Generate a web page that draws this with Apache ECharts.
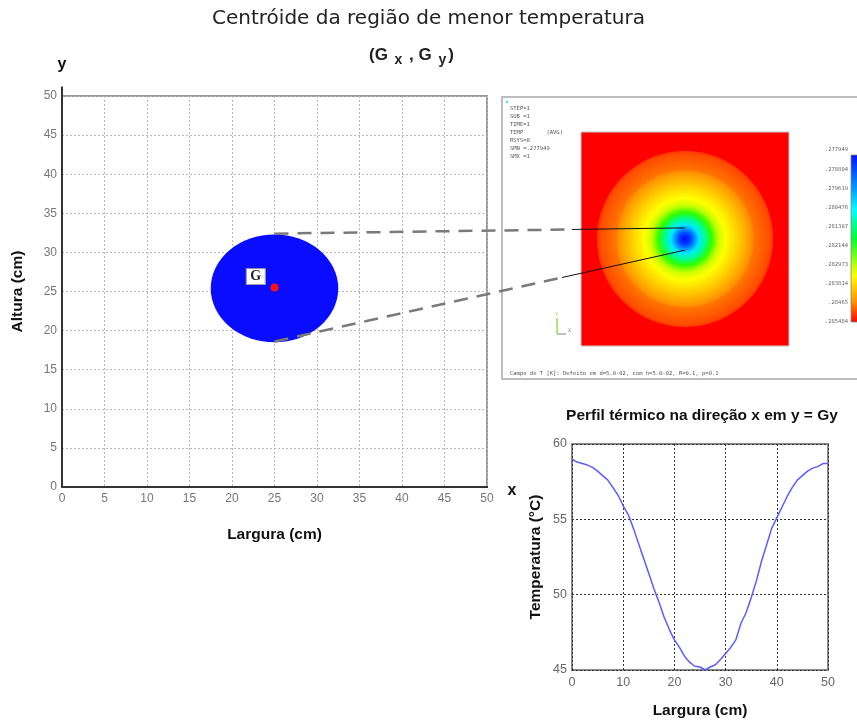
<!DOCTYPE html>
<html>
<head>
<meta charset="utf-8">
<script src="https://cdn.jsdelivr.net/npm/echarts@6/dist/echarts.min.js"></script>
<style>
  html, body { margin: 0; padding: 0; background: #ffffff; }
  #main { width: 857px; height: 723px; }
</style>
</head>
<body>
<div id="main"></div>
<script>
// ---------- data ----------
const mainTitle = 'Centróide da região de menor temperatura';
const profileTitle = 'Perfil térmico na direção x em y = Gy';
const leftTicks = [0, 5, 10, 15, 20, 25, 30, 35, 40, 45, 50];
// cold region ellipse: [centre x, centre y, half width, half height] (cm)
const coldRegion = [[25, 25.4, 7.5, 6.9]];
const centroid = [[25, 25.5]];
const centroidLabel = [[22.8, 26.9]];
// ANSYS field: [centre x, centre y, radius of heated disc] (cm)
const ansysField = [[25, 25, 21.2]];
const ansysHeader = ['STEP=1', 'SUB =1', 'TIME=1', 'TEMP       (AVG)', 'RSYS=0', 'SMN =.277949', 'SMX =1'];
const ansysFooter = 'Campo de T [K]: Defeito em d=5.0-02, com h=5.0-02, R=0.1, p=0.1';
const colorbarLabels = ['.277949', '.278804', '.279619', '.280476', '.281307', '.282144', '.282973', '.283814', '.28465', '.285484'];
// temperature profile along x at y = Gy : [x (cm), T (°C)]
const profile = [
  [0, 59.0], [1, 58.8], [2, 58.7], [3, 58.6], [4, 58.45], [5, 58.2], [6, 57.9], [7, 57.6], [8, 57.1], [9, 56.6],
  [10, 55.9], [11, 55.3], [12, 54.4], [13, 53.4], [14, 52.4], [15, 51.4], [16, 50.4], [17, 49.5], [18, 48.5], [19, 47.7],
  [20, 47.0], [21, 46.5], [22, 45.9], [23, 45.5], [24, 45.25], [25, 45.2], [26, 45.0], [27, 45.2], [28, 45.35], [29, 45.7],
  [30, 46.1], [31, 46.5], [32, 47.0], [33, 48.1], [34, 48.8], [35, 49.8], [36, 50.9], [37, 52.2], [38, 53.3], [39, 54.4],
  [40, 55.1], [41, 55.8], [42, 56.5], [43, 57.1], [44, 57.6], [45, 57.9], [46, 58.2], [47, 58.4], [48, 58.5], [49, 58.7], [50, 58.7]
];

const chart = echarts.init(document.getElementById('main'), null, { renderer: 'canvas' });
const FONT = '"Liberation Sans", Arial, sans-serif';
const WIDE = '"DejaVu Sans", "Liberation Sans", sans-serif';

const option = {
  backgroundColor: '#ffffff',
  animation: false,
  textStyle: { fontFamily: FONT },
  title: [
    { text: mainTitle, left: 'center', top: 4,
      textStyle: { fontSize: 20, fontWeight: 'normal', color: '#222', fontFamily: WIDE } },
    { text: '(G {s|x} , G {s|y})', left: 364, top: 38,
      textStyle: { fontSize: 17, fontWeight: 'bold', color: '#222', fontFamily: FONT,
        rich: { s: { fontSize: 14, fontWeight: 'bold', color: '#222', fontFamily: FONT, padding: [10, 2, 0, 2] } } } },
    { text: profileTitle, left: 697, textAlign: 'center', top: 403,
      textStyle: { fontSize: 15.5, fontWeight: 'bold', color: '#111', fontFamily: FONT } }
  ],
  grid: [
    { left: 62, top: 96, width: 425, height: 391, show: true, borderColor: '#999', borderWidth: 2, backgroundColor: 'transparent' },
    { left: 572, top: 444, width: 256, height: 226, show: true, borderColor: '#888', borderWidth: 2, backgroundColor: 'transparent' },
    { left: 581, top: 132, width: 208, height: 214, show: false }
  ],
  xAxis: [
    { gridIndex: 0, type: 'value', min: 0, max: 50, interval: 5,
      name: 'Largura (cm)', nameLocation: 'middle', nameGap: 40,
      nameTextStyle: { fontSize: 15.5, fontWeight: 'bold', color: '#111' },
      axisLine: { lineStyle: { color: '#333', width: 2 } }, axisTick: { show: false },
      axisLabel: { color: '#777', fontSize: 12, margin: 6 },
      splitLine: { lineStyle: { color: '#b8b8b8', type: [2, 2], width: 1 } } },
    { gridIndex: 1, type: 'value', min: 0, max: 50, interval: 10,
      name: 'Largura (cm)', nameLocation: 'middle', nameGap: 33,
      nameTextStyle: { fontSize: 15.5, fontWeight: 'bold', color: '#111' },
      axisLine: { show: false }, axisTick: { show: false },
      axisLabel: { color: '#666', fontSize: 12.5, margin: 6 },
      splitLine: { lineStyle: { color: '#333', type: [2, 2], width: 1 } } },
    { gridIndex: 2, type: 'value', min: 0, max: 50, show: false }
  ],
  yAxis: [
    { gridIndex: 0, type: 'value', min: 0, max: 50, interval: 5,
      name: 'Altura (cm)', nameLocation: 'middle', nameGap: 36, nameRotate: 90,
      nameTextStyle: { fontSize: 15.5, fontWeight: 'bold', color: '#111' },
      axisLine: { show: true, lineStyle: { color: '#333', width: 2 } }, axisTick: { show: false },
      axisLabel: { color: '#777', fontSize: 12, margin: 5 },
      splitLine: { lineStyle: { color: '#b8b8b8', type: [2, 2], width: 1 } } },
    { gridIndex: 1, type: 'value', min: 45, max: 60, interval: 5,
      name: 'Temperatura (°C)', nameLocation: 'middle', nameGap: 28, nameRotate: 90,
      nameTextStyle: { fontSize: 15.5, fontWeight: 'bold', color: '#111' },
      axisLine: { show: false }, axisTick: { show: false },
      axisLabel: { color: '#666', fontSize: 12.5, margin: 5 },
      splitLine: { lineStyle: { color: '#333', type: [2, 2], width: 1 } } },
    { gridIndex: 2, type: 'value', min: 0, max: 50, show: false }
  ],
  series: [
    { type: 'custom', xAxisIndex: 0, yAxisIndex: 0, data: coldRegion, z: 3,
      renderItem: function (params, api) {
        const c = api.coord([api.value(0), api.value(1)]);
        const s = api.size([api.value(2), api.value(3)]);
        return { type: 'circle', x: c[0], y: c[1], scaleX: s[0], scaleY: s[1],
          shape: { cx: 0, cy: 0, r: 1 }, style: { fill: '#0a0cff' } };
      } },
    { type: 'scatter', xAxisIndex: 0, yAxisIndex: 0, data: centroid, symbolSize: 8, z: 5,
      itemStyle: { color: '#ff1010', opacity: 1 } },
    { type: 'scatter', xAxisIndex: 0, yAxisIndex: 0, data: centroidLabel, symbol: 'rect', symbolSize: [19, 16], z: 5,
      itemStyle: { color: '#ffffff', borderColor: '#999', borderWidth: 1, opacity: 1 },
      label: { show: true, position: 'inside', formatter: 'G', fontSize: 14, fontWeight: 'bold', color: '#222',
        fontFamily: '"Liberation Serif", "DejaVu Serif", serif' } },
    { type: 'line', xAxisIndex: 0, yAxisIndex: 0, clip: false, symbol: 'none', z: 4,
      data: [[0, 50], [0, 51.2]], lineStyle: { color: '#333', width: 2 } },
    { type: 'line', xAxisIndex: 0, yAxisIndex: 0, clip: false, symbol: 'none', z: 4,
      data: [[50, 0], [51.6, 0]], lineStyle: { color: '#333', width: 2 } },
    { type: 'line', xAxisIndex: 1, yAxisIndex: 1, data: profile, symbol: 'none', z: 4,
      lineStyle: { color: '#5c5cff', width: 1.5 } },
    { type: 'custom', xAxisIndex: 2, yAxisIndex: 2, data: ansysField, z: 3, clip: false,
      renderItem: function (params, api) {
        const c = api.coord([api.value(0), api.value(1)]);
        const r = api.size([api.value(2), 0])[0];
        const tl = api.coord([0, 50]);
        const br = api.coord([50, 0]);
        return { type: 'group', children: [
          { type: 'rect', shape: { x: tl[0], y: tl[1], width: br[0] - tl[0], height: br[1] - tl[1] },
            style: { fill: '#ff0000', stroke: '#c8c8c8', lineWidth: 1 } },
          { type: 'circle', shape: { cx: c[0], cy: c[1], r: r },
            style: { fill: { type: 'radial', x: 0.5, y: 0.5, r: 0.5, colorStops: [
              { offset: 0, color: '#0008ff' },
              { offset: 0.07, color: '#0048ff' },
              { offset: 0.16, color: '#00e8ff' },
              { offset: 0.23, color: '#00ff90' },
              { offset: 0.30, color: '#30ff00' },
              { offset: 0.38, color: '#c8ff00' },
              { offset: 0.46, color: '#ffff00' },
              { offset: 0.55, color: '#ffe000' },
              { offset: 0.68, color: '#ffb000' },
              { offset: 0.77, color: '#ff8c00' },
              { offset: 0.78, color: '#ff7600' },
              { offset: 0.97, color: '#ff4a00' },
              { offset: 1, color: '#ff3000' }
            ] } } }
        ] };
      } }
  ]
};

chart.setOption(option);

// ---------- annotation graphics (positions derived from the axes) ----------
function px(grid, v) { return chart.convertToPixel({ gridIndex: grid }, v); }
function splitAt(a, b, x) {
  const t = (x - a[0]) / (b[0] - a[0]);
  return [x, a[1] + t * (b[1] - a[1])];
}
const l1a = px(0, [25, 32.4]), l1b = px(2, [25, 27.6]);
const l2a = px(0, [25, 18.6]), l2b = px(2, [25, 22.4]);
const l1s = splitAt(l1a, l1b, px(2, [-2.2, 0])[0]);
const l2s = splitAt(l2a, l2b, px(2, [-4.6, 0])[0]);

const panel = { x: 502, y: 97, w: 362, h: 282 };
const cbar = { x: 851, y: 155, w: 9, h: 167 };
const mono = '"DejaVu Sans Mono", "Liberation Mono", monospace';

const graphics = [
  { type: 'rect', z: 0, shape: { x: panel.x, y: panel.y, width: panel.w, height: panel.h },
    style: { fill: '#ffffff', stroke: '#a8a8a8', lineWidth: 1.5 } },
  { type: 'circle', z: 1, shape: { cx: panel.x + 5, cy: panel.y + 5, r: 1.2 }, style: { fill: '#40e0ff' } },
  { type: 'rect', z: 10, shape: { x: cbar.x, y: cbar.y, width: cbar.w, height: cbar.h },
    style: { stroke: '#888', lineWidth: 0.8, fill: { type: 'linear', x: 0, y: 0, x2: 0, y2: 1, colorStops: [
      { offset: 0, color: '#0010ff' }, { offset: 0.22, color: '#00a8ff' }, { offset: 0.33, color: '#00ffff' },
      { offset: 0.5, color: '#00ff30' }, { offset: 0.72, color: '#ffff00' }, { offset: 0.88, color: '#ff9000' },
      { offset: 1, color: '#ff0000' } ] } } },
  { type: 'text', z: 10, x: 510, y: 374, style: { text: ansysFooter, fill: '#555', font: '5.5px ' + mono, textVerticalAlign: 'middle' } },
  // small coordinate triad
  { type: 'line', z: 10, shape: { x1: 557, y1: 318, x2: 557, y2: 334 }, style: { stroke: '#7ed321', lineWidth: 1.2 } },
  { type: 'line', z: 10, shape: { x1: 557, y1: 334, x2: 566, y2: 334 }, style: { stroke: '#999', lineWidth: 1.2 } },
  { type: 'text', z: 10, x: 568, y: 331, style: { text: 'X', fill: '#888', font: '5px ' + mono, textVerticalAlign: 'middle' } },
  { type: 'text', z: 10, x: 555, y: 315, style: { text: 'Y', fill: '#9c6', font: '5px ' + mono, textVerticalAlign: 'middle' } },
  // axis letters
  { type: 'text', z: 10, x: 62, y: 65, style: { text: 'y', fill: '#111', font: 'bold 16px ' + FONT, textAlign: 'center', textVerticalAlign: 'middle' } },
  { type: 'text', z: 10, x: 512, y: 491, style: { text: 'x', fill: '#111', font: 'bold 16px ' + FONT, textAlign: 'center', textVerticalAlign: 'middle' } },
  // zoom-in lines
  { type: 'line', z: 10, shape: { x1: l1a[0], y1: l1a[1], x2: l1s[0], y2: l1s[1] }, style: { stroke: '#7a7a7a', lineWidth: 2.5, lineDash: [14, 9] } },
  { type: 'line', z: 10, shape: { x1: l1s[0], y1: l1s[1], x2: l1b[0], y2: l1b[1] }, style: { stroke: '#111', lineWidth: 1 } },
  { type: 'line', z: 10, shape: { x1: l2a[0], y1: l2a[1], x2: l2s[0], y2: l2s[1] }, style: { stroke: '#7a7a7a', lineWidth: 2.5, lineDash: [14, 9] } },
  { type: 'line', z: 10, shape: { x1: l2s[0], y1: l2s[1], x2: l2b[0], y2: l2b[1] }, style: { stroke: '#111', lineWidth: 1 } }
];
ansysHeader.forEach(function (t, i) {
  graphics.push({ type: 'text', z: 10, x: 510, y: 109 + i * 8,
    style: { text: t, fill: '#555', font: '5.5px ' + mono, textVerticalAlign: 'middle' } });
});
colorbarLabels.forEach(function (t, i) {
  graphics.push({ type: 'text', z: 10, x: 848, y: 150 + i * 19.1,
    style: { text: t, fill: '#666', font: '5.5px ' + mono, textAlign: 'right', textVerticalAlign: 'middle' } });
});
chart.setOption({ graphic: { elements: graphics } });
</script>
</body>
</html>
